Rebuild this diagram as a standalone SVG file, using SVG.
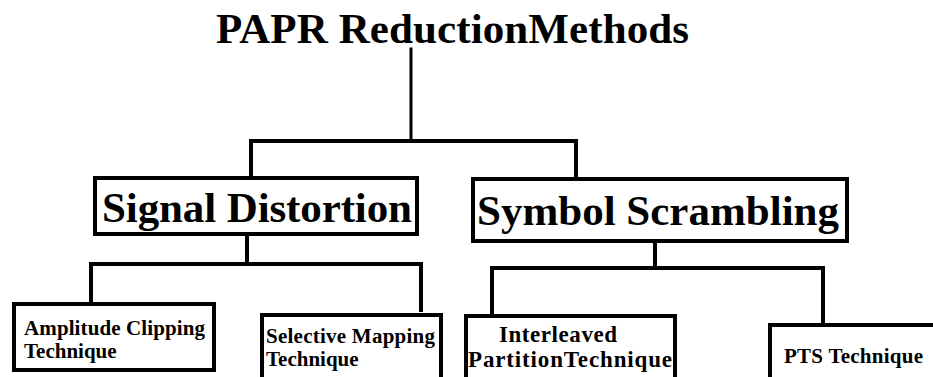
<svg xmlns="http://www.w3.org/2000/svg" width="933" height="377" viewBox="0 0 933 377">
<style>
  .box { fill: #fff; stroke: #000; stroke-width: 4; }
  .wire { fill: none; stroke: #000; stroke-width: 4; stroke-linecap: square; }
  text { font-family: "Liberation Serif", "Times New Roman", serif; font-weight: bold; fill: #000; }
  .t1 { font-size: 43px; }
  .t2 { font-size: 43px; }
  .t3 { font-size: 21px; }
</style>
<rect width="933" height="377" fill="#fff"/>
<g id="connectors">
  <path class="wire" d="M411 49 V141" style="stroke-width:3"/>
  <path class="wire" d="M251 176 V141 H576 V180"/>
  <path class="wire" d="M247 236 V264"/>
  <path class="wire" d="M91 302 V264 H421 V310"/>
  <path class="wire" d="M655 243 V268"/>
  <path class="wire" d="M492 316 V268 H823 V322"/>
</g>
<g id="title">
  <text class="t1" x="216" y="43" textLength="473">PAPR ReductionMethods</text>
</g>
<g id="signal-distortion">
  <rect class="box" x="95" y="178" width="322" height="56"/>
  <text class="t2" x="102" y="222" textLength="310">Signal Distortion</text>
</g>
<g id="symbol-scrambling">
  <rect class="box" x="473" y="179" width="374" height="62"/>
  <text class="t2" x="477" y="225" textLength="362">Symbol Scrambling</text>
</g>
<g id="amplitude-clipping">
  <rect class="box" x="14" y="304" width="200" height="66"/>
  <text class="t3" x="24" y="335" textLength="181">Amplitude Clipping</text>
  <text class="t3" x="24" y="358">Technique</text>
</g>
<g id="selective-mapping">
  <rect class="box" x="262" y="315" width="179" height="70"/>
  <text class="t3" x="266" y="343" textLength="169">Selective Mapping</text>
  <text class="t3" x="266" y="366">Technique</text>
</g>
<g id="interleaved-partition">
  <rect class="box" x="466" y="316" width="209" height="70"/>
  <text class="t3" x="499" y="342" textLength="118" style="font-size:23px">Interleaved</text>
  <text class="t3" x="468" y="367" textLength="204" style="font-size:23px">PartitionTechnique</text>
</g>
<g id="pts">
  <rect class="box" x="770" y="325" width="180" height="70"/>
  <text class="t3" x="784" y="363" textLength="139">PTS Technique</text>
</g>
</svg>
